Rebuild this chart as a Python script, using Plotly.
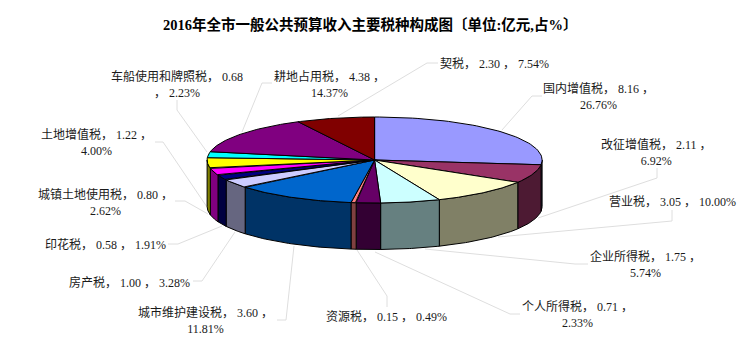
import numpy as np
import plotly.graph_objects as go

# ---- data ----
names = ["国内增值税", "改征增值税", "营业税", "企业所得税", "个人所得税", "资源税", "城市维护建设税",
         "房产税", "印花税", "城镇土地使用税", "土地增值税", "车船使用和牌照税", "耕地占用税", "契税"]
values = [8.16, 2.11, 3.05, 1.75, 0.71, 0.15, 3.60, 1.00, 0.58, 0.80, 1.22, 0.68, 4.38, 2.30]
percents = [26.76, 6.92, 10.00, 5.74, 2.33, 0.49, 11.81, 3.28, 1.91, 2.62, 4.00, 2.23, 14.37, 7.54]
title_text = "2016年全市一般公共预算收入主要税种构成图〔单位:亿元,占%〕"

# ---- styles and layout ----
top_colors = ["#9999FF", "#993366", "#FFFFCC", "#CCFFFF", "#660066", "#FF8080", "#0066CC",
              "#CCCCFF", "#000080", "#FF00FF", "#FFFF00", "#00FFFF", "#800080", "#800000"]
side_colors = ["#4D4D80", "#4D1A33", "#808066", "#668080", "#330033", "#804040", "#003366",
               "#666680", "#000040", "#800080", "#808000", "#008080", "#400040", "#400000"]
CX, CY, A, B, DEPTH = 374.6, 160.0, 167.5, 43.0, 46.5
W, H = 751, 364
FONT = '"Liberation Serif","Noto Sans CJK SC",serif'

# (centre x, first line y, line-break style)
label_pos = {
    "国内增值税": (598, 89, 1), "改征增值税": (656, 145, 1), "营业税": (672, 202, 0),
    "企业所得税": (645, 257, 1), "个人所得税": (577, 307, 1), "资源税": (386, 317, 0),
    "城市维护建设税": (205, 313, 1), "房产税": (129, 282, 0), "印花税": (105, 244, 0),
    "城镇土地使用税": (105, 195, 1), "土地增值税": (96, 135, 1),
    "车船使用和牌照税": (177, 77, 2), "耕地占用税": (329, 77, 1), "契税": (494, 64, 0),
}
leaders = {
    "国内增值税": [(542, 96), (532, 96), (502, 130)],
    "改征增值税": [(657, 168), (657, 178), (538, 218)],
    "营业税": [(672, 210), (672, 221), (498, 237)],
    "企业所得税": [(588, 264), (575, 264), (425, 249)],
    "个人所得税": [(520, 314), (510, 314), (375, 252)],
    "资源税": [(387, 307), (387, 296), (357, 250)],
    "城市维护建设税": [(277, 320), (286, 320), (294, 246)],
    "房产税": [(193, 281), (202, 281), (235, 232)],
    "印花税": [(168, 244), (178, 244), (222, 226)],
    "城镇土地使用税": [(175, 201), (185, 201), (208, 214)],
    "土地增值税": [(155, 142), (163, 142), (207, 207)],
    "车船使用和牌照税": [(177, 100), (177, 110), (207, 152)],
    "耕地占用税": [(272, 83), (262, 83), (242, 132)],
    "契税": [(438, 63), (427, 63), (338, 116)],
}


def ex(t):
    return CX + A * np.sin(t)


def ey(t):
    return CY - B * np.cos(t)


fig = go.Figure()

for name, pts in leaders.items():
    fig.add_trace(go.Scatter(x=[p[0] for p in pts], y=[p[1] for p in pts], mode="lines",
                             line=dict(color="#DEDEDE", width=1), hoverinfo="skip"))

edges = np.cumsum([0.0] + values) / sum(values) * 2 * np.pi

# side walls: the part of each slice rim on the near half of the ellipse
for i, name in enumerate(names):
    lo, hi = max(edges[i], np.pi / 2), min(edges[i + 1], 3 * np.pi / 2)
    if hi <= lo:
        continue
    t = np.linspace(lo, hi, 40)
    xs = np.r_[ex(t), ex(t[::-1]), ex(t[0])]
    ys = np.r_[ey(t), ey(t[::-1]) + DEPTH, ey(t[0])]
    fig.add_trace(go.Scatter(x=xs, y=ys, mode="lines", fill="toself", fillcolor=side_colors[i],
                             line=dict(color="#000000", width=1), name=name, hoverinfo="name"))

# top faces
for i, name in enumerate(names):
    t = np.linspace(edges[i], edges[i + 1], 60)
    xs = np.r_[CX, ex(t), CX]
    ys = np.r_[CY, ey(t), CY]
    fig.add_trace(go.Scatter(x=xs, y=ys, mode="lines", fill="toself", fillcolor=top_colors[i],
                             line=dict(color="#000000", width=1), name=name, hoverinfo="name"))


def label(i):
    n, v, p = names[i], f"{values[i]:.2f}", f"{percents[i]:.2f}%"
    style = label_pos[n][2]
    if style == 0:
        return f"{n}， {v} ， {p}", False
    if style == 2:
        return f"{n}， {v}<br>， {p}", True
    return f"{n}， {v} ，<br>{p}", True


annotations = [dict(text=title_text, x=370, y=24, xref="x", yref="y", showarrow=False,
                    font=dict(family=FONT, size=14.5, color="#000000", weight="bold"))]
for i, name in enumerate(names):
    cx, y, _ = label_pos[name]
    txt, two = label(i)
    annotations.append(dict(text=txt, x=cx, y=y + (7.5 if two else 0), xref="x", yref="y",
                            showarrow=False, align="center",
                            font=dict(family=FONT, size=12, color="#1A1A1A")))

fig.update_layout(width=W, height=H, margin=dict(l=0, r=0, t=0, b=0), showlegend=False,
                  paper_bgcolor="#FFFFFF", plot_bgcolor="#FFFFFF", annotations=annotations,
                  xaxis=dict(range=[0, W], visible=False, fixedrange=True),
                  yaxis=dict(range=[H, 0], visible=False, fixedrange=True))
fig.write_html("out.html", config={"displayModeBar": False},
               post_script="document.body.style.margin='0';document.body.style.overflow='hidden';")
